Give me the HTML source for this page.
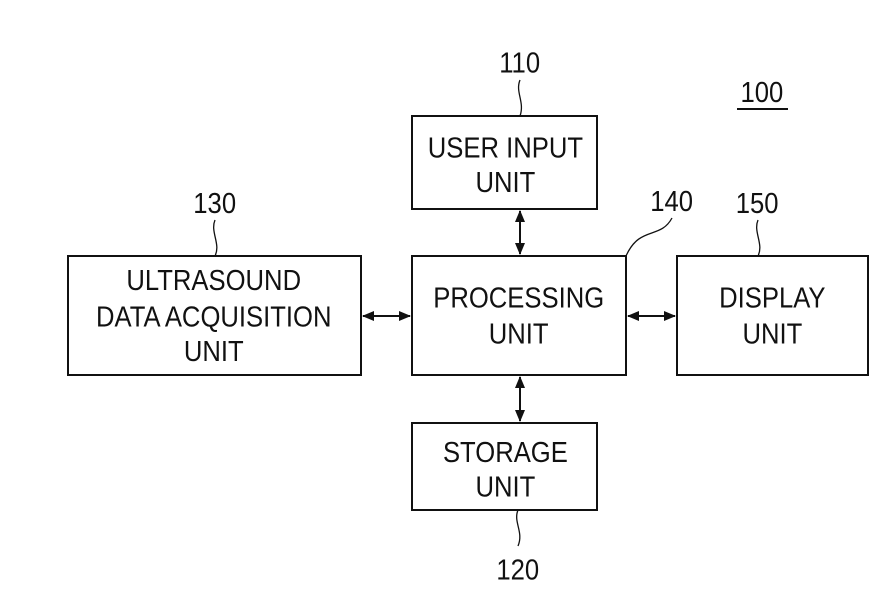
<!DOCTYPE html>
<html><head><style>
html,body{margin:0;padding:0;background:#fff;}
svg{display:block;}
text{font-family:"Liberation Sans",sans-serif;font-size:27px;fill:#111;text-anchor:middle;}
</style></head><body>
<svg width="879" height="615" viewBox="0 0 879 615">
<defs>
<marker id="a" markerWidth="12" markerHeight="10" refX="11" refY="5" orient="auto-start-reverse" markerUnits="userSpaceOnUse"><path d="M0,0 L12,5 L0,10 z" fill="#111"/></marker>
</defs>
<g fill="none" stroke="#111" stroke-width="2">
<rect x="412" y="116" width="185" height="93"/>
<rect x="68" y="256" width="293" height="119"/>
<rect x="412" y="256" width="214" height="119"/>
<rect x="677" y="256" width="191" height="119"/>
<rect x="412" y="423" width="185" height="87"/>
<line x1="520" y1="211" x2="520" y2="254" marker-start="url(#a)" marker-end="url(#a)"/>
<line x1="520" y1="377" x2="520" y2="421" marker-start="url(#a)" marker-end="url(#a)"/>
<line x1="363" y1="316" x2="410" y2="316" marker-start="url(#a)" marker-end="url(#a)"/>
<line x1="628" y1="316" x2="675" y2="316" marker-start="url(#a)" marker-end="url(#a)"/>
<path stroke-width="1.3" d="M520,80 C515,92 525,102 520,116"/>
<path stroke-width="1.3" d="M215,220 C210,232 221,244 215,256"/>
<path stroke-width="1.3" d="M672,218 C660,240 640,225 626,256"/>
<path stroke-width="1.3" d="M758,220 C753,232 764,244 758,256"/>
<path stroke-width="1.3" d="M518,510 C513,522 524,532 518,546"/>
<line x1="737" y1="109" x2="788" y2="109"/>
</g>
<g transform="scale(0.95,1.05)">
<text x="547" y="69">110</text>
<text x="802" y="97">100</text>
<text x="226" y="203">130</text>
<text x="707" y="201">140</text>
<text x="797" y="203">150</text>
<text x="545" y="552">120</text>
<text x="532" y="150">USER INPUT</text>
<text x="532" y="183">UNIT</text>
<text x="225" y="276">ULTRASOUND</text>
<text x="225" y="311">DATA ACQUISITION</text>
<text x="225" y="344">UNIT</text>
<text x="546" y="293">PROCESSING</text>
<text x="546" y="327">UNIT</text>
<text x="813" y="293">DISPLAY</text>
<text x="813" y="327">UNIT</text>
<text x="532" y="440">STORAGE</text>
<text x="532" y="473">UNIT</text>
</g>
</svg>
</body></html>
